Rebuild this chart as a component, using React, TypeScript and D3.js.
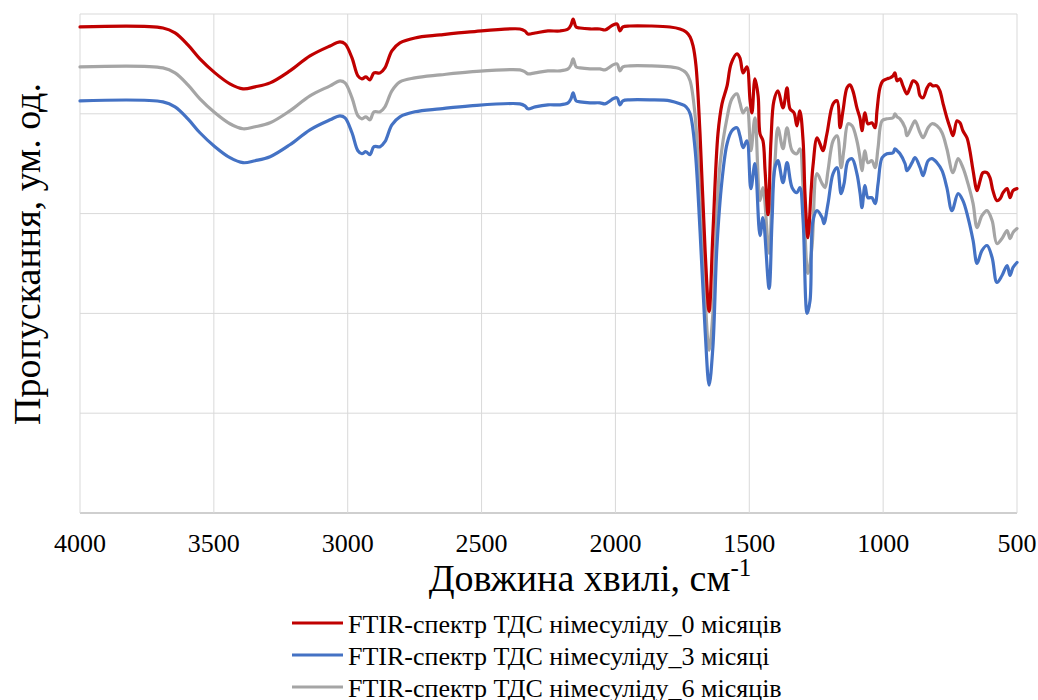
import React, { useEffect, useState } from "react";
import * as d3 from "d3";

// wavenumber (cm-1), transmittance (arb. units)
const spectrum0: [number, number][] = [
  [4000, 97.4], [3690, 97.2], [3645, 96.2], [3597, 93.8], [3552, 91.0], [3496, 88.2], [3440, 86.0],
  [3391, 85.0], [3346, 85.4], [3290, 86.2], [3216, 88.6], [3141, 91.6], [3066, 93.6], [3029, 94.4],
  [3010, 94.0], [2984, 91.2], [2962, 87.6], [2947, 87.0], [2932, 87.4], [2917, 86.8], [2902, 88.2],
  [2879, 88.2], [2861, 89.2], [2835, 92.6], [2805, 94.2], [2749, 95.2], [2655, 95.8], [2543, 96.4],
  [2357, 97.0], [2338, 96.6], [2327, 96.0], [2300, 96.2], [2252, 96.6], [2207, 96.6], [2177, 97.0],
  [2166, 97.8], [2158, 99.0], [2147, 97.4], [2132, 97.2], [2095, 97.0], [2058, 97.0], [2039, 96.8],
  [2020, 97.4], [2009, 97.8], [1994, 98.0], [1983, 96.6], [1972, 97.4], [1946, 97.6], [1871, 97.6],
  [1796, 97.4], [1759, 97.0], [1736, 96.4], [1721, 95.4], [1710, 93.6], [1699, 89.6], [1684, 76.0],
  [1665, 52.6], [1650, 40.4], [1636, 56.0], [1617, 76.0], [1602, 82.0], [1583, 85.6], [1568, 90.0],
  [1546, 92.0], [1535, 91.2], [1523, 88.2], [1509, 89.4], [1497, 82.6], [1490, 80.2], [1479, 87.0],
  [1467, 83.6], [1460, 76.0], [1449, 74.6], [1441, 68.6], [1430, 59.8], [1419, 74.6], [1408, 82.6],
  [1393, 84.6], [1374, 81.2], [1359, 85.2], [1348, 81.0], [1333, 80.2], [1322, 77.6], [1311, 80.6],
  [1299, 74.6], [1292, 64.0], [1281, 55.2], [1269, 64.6], [1262, 69.6], [1247, 75.2], [1236, 74.0],
  [1225, 72.6], [1210, 76.0], [1187, 82.0], [1172, 82.6], [1161, 77.2], [1150, 80.6], [1135, 85.2],
  [1124, 85.8], [1113, 84.6], [1098, 81.2], [1086, 79.0], [1079, 76.6], [1068, 80.2], [1057, 78.0],
  [1042, 78.2], [1030, 77.2], [1023, 80.6], [1012, 85.2], [1001, 86.6], [986, 87.0], [974, 87.2],
  [963, 87.6], [956, 88.2], [948, 86.6], [937, 87.0], [926, 85.6], [911, 84.0], [900, 85.2],
  [888, 86.6], [873, 86.0], [862, 83.6], [851, 83.2], [836, 85.2], [825, 86.0], [814, 85.6],
  [799, 85.6], [788, 84.6], [776, 82.0], [762, 79.2], [750, 77.2], [739, 75.6], [724, 78.6],
  [713, 78.2], [702, 76.6], [687, 75.2], [676, 72.6], [664, 68.6], [649, 64.6], [638, 66.6],
  [627, 68.2], [612, 68.2], [601, 67.2], [590, 64.6], [575, 62.6], [563, 63.0], [552, 64.2],
  [537, 65.0], [526, 63.2], [515, 64.6], [500, 65.0],
];

const spectrum3: [number, number][] = [
  [4000, 82.6], [3690, 82.4], [3645, 81.4], [3597, 79.0], [3552, 76.2], [3496, 73.4], [3440, 71.2],
  [3391, 70.2], [3346, 70.6], [3290, 71.4], [3216, 73.8], [3141, 76.8], [3066, 78.8], [3029, 79.6],
  [3010, 79.2], [2984, 76.2], [2962, 72.6], [2947, 72.0], [2932, 72.4], [2917, 71.8], [2902, 73.4],
  [2879, 73.4], [2861, 74.4], [2835, 77.8], [2805, 79.4], [2749, 80.4], [2655, 81.0], [2543, 81.6],
  [2357, 82.0], [2338, 81.6], [2327, 81.0], [2300, 81.4], [2252, 81.8], [2207, 81.8], [2177, 82.2],
  [2166, 83.0], [2158, 84.2], [2147, 82.6], [2132, 82.4], [2095, 82.2], [2058, 82.2], [2039, 82.0],
  [2020, 82.6], [2009, 83.0], [1994, 83.2], [1983, 81.8], [1972, 82.6], [1946, 82.8], [1871, 82.8],
  [1796, 82.6], [1759, 82.0], [1736, 81.4], [1721, 80.0], [1703, 73.2], [1684, 56.6], [1665, 36.6],
  [1650, 25.6], [1636, 33.2], [1621, 53.2], [1602, 66.6], [1583, 74.0], [1565, 76.6], [1546, 77.2],
  [1535, 75.6], [1523, 73.2], [1509, 74.6], [1494, 65.0], [1479, 70.0], [1460, 55.6], [1449, 59.2],
  [1426, 45.0], [1415, 58.6], [1404, 69.2], [1393, 70.6], [1374, 66.2], [1359, 70.2], [1340, 65.2],
  [1322, 64.2], [1311, 65.2], [1299, 58.6], [1284, 40.0], [1273, 42.6], [1262, 58.6], [1247, 60.6],
  [1228, 59.2], [1221, 58.0], [1206, 62.0], [1187, 68.0], [1172, 69.2], [1157, 64.0], [1146, 66.0],
  [1131, 70.6], [1116, 71.0], [1098, 68.0], [1086, 64.0], [1079, 61.2], [1068, 65.6], [1057, 63.2],
  [1042, 63.2], [1030, 62.0], [1019, 66.0], [1004, 71.2], [986, 72.0], [963, 72.2], [956, 73.0],
  [948, 72.6], [937, 72.0], [918, 70.0], [911, 68.6], [892, 70.2], [881, 71.2], [862, 69.2],
  [851, 67.6], [832, 70.6], [818, 71.0], [799, 70.2], [780, 68.6], [762, 65.2], [743, 60.6],
  [720, 64.0], [702, 62.6], [683, 59.2], [664, 54.6], [649, 50.0], [631, 52.6], [612, 53.6],
  [593, 51.2], [575, 46.2], [556, 47.6], [537, 49.6], [526, 47.6], [515, 49.2], [500, 50.2],
];

const spectrum6: [number, number][] = [
  [4000, 89.4], [3690, 89.2], [3645, 88.2], [3597, 85.8], [3552, 83.0], [3496, 80.2], [3440, 78.0],
  [3391, 77.0], [3346, 77.4], [3290, 78.2], [3216, 80.6], [3141, 83.6], [3066, 85.6], [3029, 86.6],
  [3010, 86.2], [2984, 83.2], [2962, 79.6], [2947, 79.0], [2932, 79.4], [2917, 78.8], [2902, 80.4],
  [2879, 80.4], [2861, 81.4], [2835, 84.6], [2805, 86.4], [2749, 87.2], [2655, 87.8], [2543, 88.4],
  [2357, 88.8], [2338, 88.4], [2327, 88.0], [2300, 88.2], [2252, 88.6], [2207, 88.6], [2177, 89.0],
  [2166, 89.8], [2158, 91.0], [2147, 89.4], [2132, 89.2], [2095, 89.0], [2058, 89.0], [2039, 88.8],
  [2020, 89.4], [2009, 89.8], [1994, 90.0], [1983, 88.6], [1972, 89.4], [1946, 89.6], [1871, 89.6],
  [1796, 89.4], [1759, 89.0], [1736, 88.2], [1721, 86.6], [1703, 80.0], [1684, 63.2], [1665, 43.2],
  [1650, 32.6], [1636, 40.0], [1621, 60.0], [1609, 70.0], [1583, 79.2], [1565, 83.0], [1546, 84.0],
  [1535, 82.2], [1523, 80.2], [1509, 81.2], [1494, 72.6], [1479, 79.2], [1460, 62.6], [1449, 65.2],
  [1426, 52.0], [1415, 63.6], [1404, 70.6], [1393, 77.2], [1374, 73.0], [1359, 77.2], [1340, 72.6],
  [1322, 72.0], [1311, 73.0], [1299, 65.2], [1281, 48.0], [1266, 53.2], [1247, 68.0], [1228, 66.0],
  [1217, 65.2], [1206, 68.6], [1187, 74.6], [1172, 75.6], [1157, 69.2], [1146, 73.0], [1131, 78.0],
  [1116, 77.6], [1098, 74.6], [1086, 71.0], [1079, 68.6], [1068, 72.6], [1057, 70.2], [1042, 70.6],
  [1030, 69.2], [1019, 73.2], [1004, 78.6], [986, 79.0], [963, 79.2], [956, 80.0], [948, 79.4],
  [937, 79.0], [918, 77.2], [911, 75.6], [892, 77.6], [881, 78.6], [862, 76.2], [851, 75.2],
  [832, 77.2], [818, 78.0], [799, 77.6], [780, 76.2], [762, 73.0], [739, 68.2], [720, 71.0],
  [702, 69.2], [683, 66.0], [664, 62.0], [649, 57.2], [631, 59.6], [612, 60.6], [593, 58.6],
  [575, 54.0], [556, 55.0], [537, 56.6], [526, 55.0], [515, 56.2], [500, 57.0],
];

const xTicks = [4000, 3500, 3000, 2500, 2000, 1500, 1000, 500];
const yTicks = [0, 20, 40, 60, 80, 100];

const seriesNames = [
  "FTIR-спектр ТДС німесуліду_0 місяців",
  "FTIR-спектр ТДС німесуліду_3 місяці",
  "FTIR-спектр ТДС німесуліду_6 місяців",
];
const seriesColors = ["#C00000", "#4472C4", "#A5A5A5"];
const seriesData = [spectrum0, spectrum3, spectrum6];

const W = 1038;
const H = 700;
const margin = { top: 14, right: 21, bottom: 187, left: 80 };
const FAMILY = `"Liberation Serif"`;

export default function App() {
  const [, setReady] = useState(0);

  // make sure the serif face is in before the final paint
  useEffect(() => {
    const fonts = (document as any).fonts;
    if (fonts && fonts.load) {
      fonts.load(`36px ${FAMILY}`, "Довжина FTIR 4000").then(() => setReady((n) => n + 1)).catch(() => {});
    }
  }, []);

  const x = d3.scaleLinear().domain([4000, 500]).range([margin.left, W - margin.right]);
  const y = d3.scaleLinear().domain([0, 100]).range([H - margin.bottom, margin.top]);

  const line = d3
    .line<[number, number]>()
    .x((d) => x(d[0]))
    .y((d) => y(d[1]))
    .curve(d3.curveCatmullRom.alpha(0.5));

  // gray first, then blue, red on top
  const order = [2, 1, 0];

  return (
    <svg width={W} height={H} style={{ position: "absolute", left: 0, top: 0, background: "#fff" }}>
      {yTicks.map((t) => (
        <line key={"gy" + t} x1={x(4000)} x2={x(500)} y1={y(t)} y2={y(t)}
          stroke={t === 0 ? "#bfbfbf" : "#d9d9d9"} strokeWidth={t === 0 ? 1.5 : 1} />
      ))}
      {xTicks.map((t) => (
        <line key={"gx" + t} x1={x(t)} x2={x(t)} y1={y(0)} y2={y(100)} stroke="#d9d9d9" strokeWidth={1} />
      ))}

      {order.map((i) => (
        <path key={i} d={line(seriesData[i]) || ""} fill="none" stroke={seriesColors[i]}
          strokeWidth={3.2} strokeLinejoin="round" strokeLinecap="round" />
      ))}

      {xTicks.map((t) => (
        <text key={"tx" + t} x={x(t)} y={552} textAnchor="middle" fontSize={26} fill="#000"
          style={{ fontFamily: FAMILY }}>
          {`${t}`}
        </text>
      ))}

      <text x={590} y={591} textAnchor="middle" fontSize={38} fill="#000" style={{ fontFamily: FAMILY }}>
        {`Довжина хвилі, см`}
        <tspan fontSize={25} dy={-15}>-1</tspan>
      </text>
      <text transform="translate(40,254) rotate(-90)" textAnchor="middle" fontSize={38} fill="#000"
        style={{ fontFamily: FAMILY }}>
        {`Пропускання, ум. од.`}
      </text>

      {seriesNames.map((name, i) => (
        <g key={name} transform={`translate(292,${623 + i * 32})`}>
          <line x1={0} x2={51} y1={0} y2={0} stroke={seriesColors[i]} strokeWidth={3} />
          <text x={56} y={10} fontSize={26} fill="#000" style={{ fontFamily: FAMILY }}>{name}</text>
        </g>
      ))}
    </svg>
  );
}
